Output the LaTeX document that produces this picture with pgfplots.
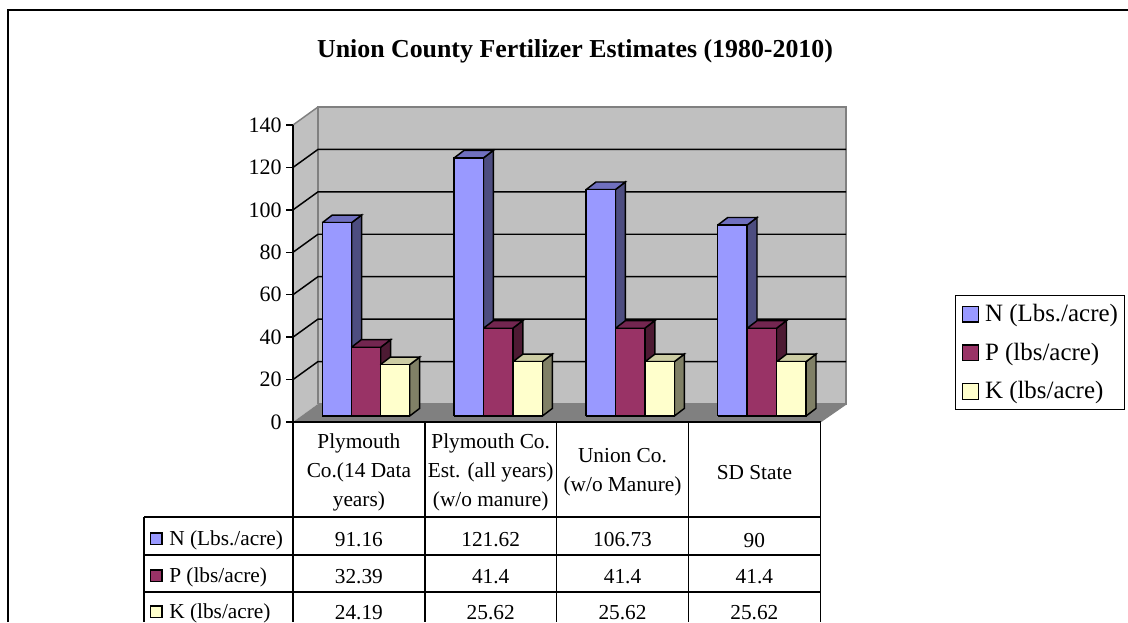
\documentclass[border=0pt]{standalone}
\usepackage{fontspec}
\setmainfont{Liberation Serif}
\usepackage{pgfplots}
\pgfplotsset{compat=1.18}
\definecolor{nfront}{HTML}{9999FF}
\definecolor{nside}{HTML}{4D4D80}
\definecolor{ntop}{HTML}{7070BF}
\definecolor{pfront}{HTML}{993366}
\definecolor{pside}{HTML}{4D1A33}
\definecolor{ptop}{HTML}{732650}
\definecolor{kfront}{HTML}{FFFFCC}
\definecolor{kside}{HTML}{808066}
\definecolor{ktop}{HTML}{CCCCA3}
\definecolor{wall}{HTML}{C0C0C0}
\definecolor{floorgray}{HTML}{808080}

% one 3D column: left x, value, colour prefix
\newcommand{\column}[3]{%
  \pgfmathsetmacro{\xa}{#1}\pgfmathsetmacro{\xb}{#1+29.3}\pgfmathsetmacro{\xc}{#1+39.3}\pgfmathsetmacro{\xd}{#1+10}%
  \pgfmathsetmacro{\ya}{2.8}\pgfmathsetmacro{\yb}{#2+2.8}\pgfmathsetmacro{\yc}{#2+6.4}\pgfmathsetmacro{\yd}{6.4}%
  \addplot[forget plot,fill=#3side,draw=black,line width=1.1pt] coordinates {(\xb,\ya) (\xc,\yd) (\xc,\yc) (\xb,\yb) (\xb,\ya)};
  \addplot[forget plot,fill=#3top,draw=black,line width=1.1pt] coordinates {(\xa,\yb) (\xb,\yb) (\xc,\yc) (\xd,\yc) (\xa,\yb)};
  \addplot[forget plot,fill=#3front,draw=black,line width=1.1pt] coordinates {(\xa,\ya) (\xb,\ya) (\xb,\yb) (\xa,\yb) (\xa,\ya)};
}
\newcommand{\grid}[1]{%
  \pgfmathsetmacro{\yg}{#1+8.5}%
  \addplot[forget plot,black,line width=1.1pt] coordinates {(293,#1) (318,\yg) (846,\yg)};
}

\begin{document}
\begin{tikzpicture}
\useasboundingbox (0pt,0pt) rectangle (846pt,-466.5pt);
\begin{axis}[
    at={(219.75pt,-316.5pt)}, anchor=south west,
    scale only axis, width=395.25pt, height=222.75pt,
    xmin=293, xmax=820, ymin=0, ymax=140,
    clip=false, axis on top,
    axis x line=none, axis y line=left,
    axis line style={-, black, line width=1.1pt},
    xtick=\empty, ytick={0,20,...,140},
    tick align=outside, major tick length=5pt,
    tick style={black, line width=1pt},
    /pgf/number format/assume math mode=true,
    tick label style={font=\fontsize{16.5}{18}\selectfont},
    legend style={
        at={(axis description cs:1.256,0.4276)}, anchor=north west,
        draw=black, line width=1.1pt, fill=white,
        font=\fontsize{18.7}{20}\selectfont,
        row sep=10.5pt, inner xsep=3pt, inner ysep=4.5pt,
        /tikz/every even column/.style={column sep=3pt},
        legend cell align=left,
    },
    legend image code/.code={%
        \path[draw=none,fill=none] (-2.25pt,0pt) -- (14.8pt,0pt);
        \draw[#1,line width=0.9pt] (0pt,-6pt) rectangle (11.8pt,5.8pt);},
]
% walls and floor
\addplot[forget plot,fill=wall,draw=none] coordinates {(293,0) (293,140) (318,148.5) (318,8.5) (293,0)};
\addplot[forget plot,fill=wall,draw=floorgray,line width=1.1pt] coordinates {(318,8.5) (318,148.5) (846,148.5) (846,8.5) (318,8.5)};
\addplot[forget plot,fill=floorgray,draw=none] coordinates {(293,0) (820,0) (846,8.5) (318,8.5) (293,0)};
\addplot[forget plot,floorgray,line width=1.1pt] coordinates {(293,140) (318,148.5)};
\addplot[forget plot,floorgray,line width=1.1pt] coordinates {(820,0) (846,8.5)};
\grid{20}\grid{40}\grid{60}\grid{80}\grid{100}\grid{120}
% columns
\column{322.3}{91.16}{n}\column{351.3}{32.39}{p}\column{380.3}{24.19}{k}
\column{454}{121.62}{n}\column{483.5}{41.4}{p}\column{513}{25.62}{k}
\column{586}{106.73}{n}\column{615.5}{41.4}{p}\column{645}{25.62}{k}
\column{717.7}{90}{n}\column{747.2}{41.4}{p}\column{776.7}{25.62}{k}
% legend
\addlegendimage{fill=nfront,draw=black}\addlegendentry{N (Lbs./acre)}
\addlegendimage{fill=pfront,draw=black}\addlegendentry{P (lbs/acre)}
\addlegendimage{fill=kfront,draw=black}\addlegendentry{K (lbs/acre)}
\end{axis}

\begin{scope}[x=0.75pt,y=-0.75pt]
% outer frame
\draw[black,line width=1.2pt] (8,622) -- (8,10) -- (1128,10);
\node[font=\bfseries\fontsize{19.4}{22}\selectfont] at (575,51) {Union County Fertilizer Estimates (1980-2010)};

% data table
\begin{scope}[black,line width=1.1pt]
\draw (293,422) -- (820.5,422);
\foreach \xx in {293,424.8,556.6,688.4,820.5} \draw (\xx,422) -- (\xx,622);
\foreach \yy in {517,555,592} \draw (144,\yy) -- (820.5,\yy);
\draw (144,517) -- (144,622);
\end{scope}
\begin{scope}[font=\fontsize{16}{21.75}\selectfont]
\node[align=center] at (358.9,472.5) {Plymouth\\Co.(14 Data\\years)};
\node[align=center] at (490.7,472.5) {Plymouth Co.\\Est. (all years)\\(w/o manure)};
\node[align=center] at (622.5,472.5) {Union Co.\\(w/o Manure)};
\node[align=center] at (754.4,472.5) {SD State};
\foreach \yy/\lab/\col/\a/\b/\c/\d in {
    539/{N (Lbs./acre)}/nfront/91.16/121.62/106.73/90,
    576/{P (lbs/acre)}/pfront/32.39/41.4/41.4/41.4,
    612/{K (lbs/acre)}/kfront/24.19/25.62/25.62/25.62} {
  \draw[black,fill=\col,line width=0.8pt] (150.5,\yy-6) rectangle (162,\yy+5.5);
  \node[anchor=west,inner sep=0pt] at (169,\yy+1) {\lab};
  \node[inner sep=0pt] at (358.9,\yy+1) {\a};
  \node[inner sep=0pt] at (490.7,\yy+1) {\b};
  \node[inner sep=0pt] at (622.5,\yy+1) {\c};
  \node[inner sep=0pt] at (754.4,\yy+1) {\d};
}
\end{scope}
\end{scope}
\end{tikzpicture}
\end{document}
